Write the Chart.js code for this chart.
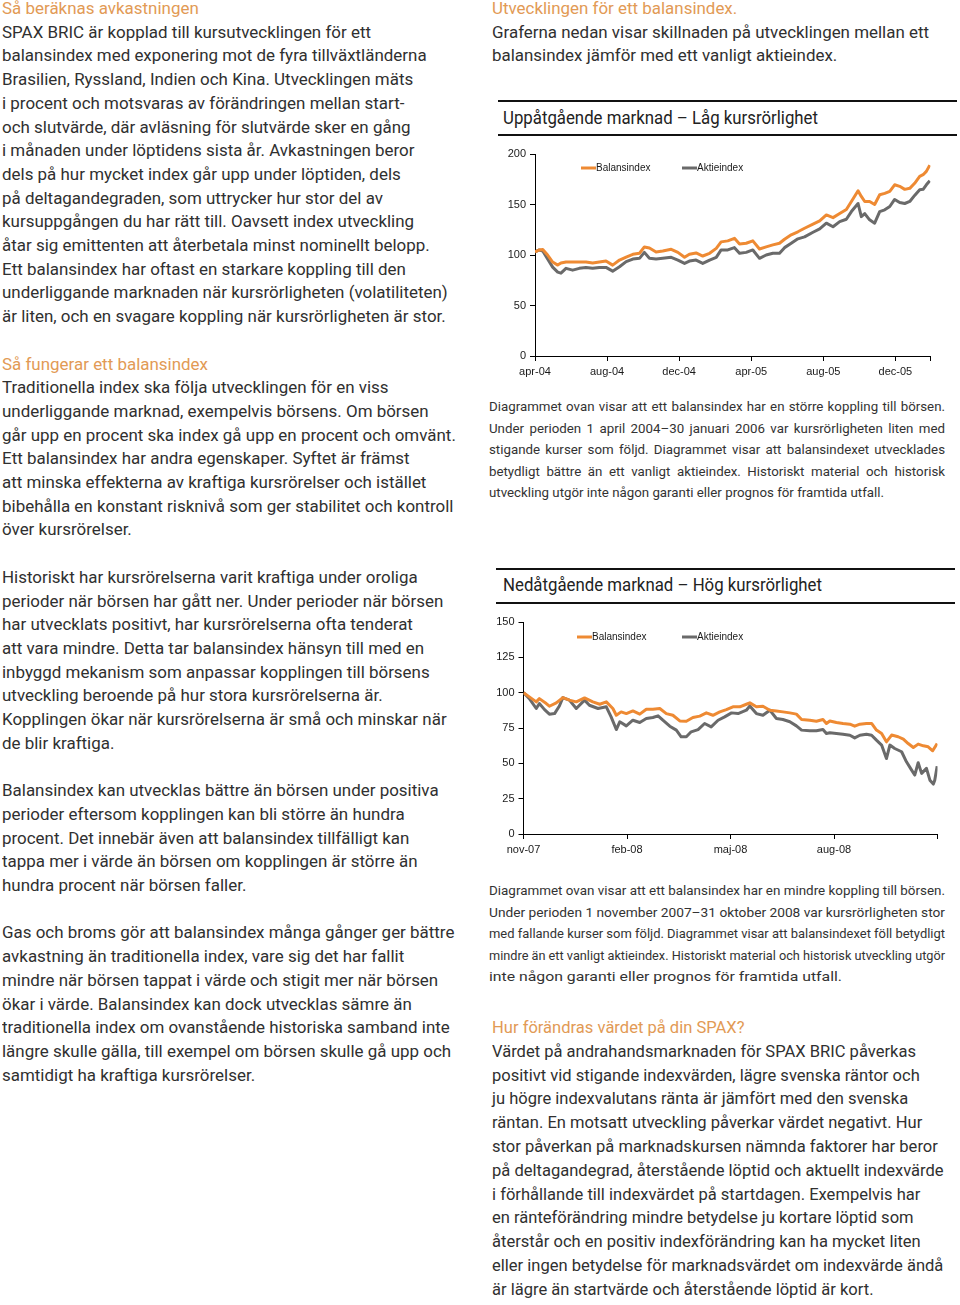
<!DOCTYPE html>
<html lang="sv">
<head>
<meta charset="utf-8">
<script src="https://cdn.jsdelivr.net/npm/chart.js@4/dist/chart.umd.min.js"></script>
<style>
  html,body{margin:0;padding:0;background:#fff;}
  body{width:960px;height:1305px;position:relative;overflow:hidden;font-family:Roboto,"Open Sans",sans-serif;color:#303030;}
  .blk{position:absolute;}
  .ln{white-space:nowrap;}
  .body{font-size:17px;line-height:23.71px;}
  .cap{font-size:13.5px;line-height:21.6px;color:#333;}
  .h{color:#E29A55;}
  .ttl{font-size:18.5px;line-height:24px;color:#222;}
  .rule{position:absolute;height:2px;background:#111;}
  canvas{position:absolute;}
</style>
</head>
<body>
<script>
// ---------- DATA ----------
// Chart 1: Uppåtgående marknad – Låg kursrörlighet (months since 1 apr 2004)
const upMonths = [0,0.24,0.43,0.70,0.98,1.26,1.44,1.72,2.09,2.46,2.83,3.20,3.57,3.94,4.31,4.69,5.06,5.43,5.80,6.07,6.35,6.72,7.09,7.56,7.93,8.30,8.57,8.94,9.31,9.69,10.06,10.33,10.70,11.07,11.35,11.72,12.09,12.46,12.83,13.20,13.57,13.85,14.22,14.59,14.96,15.43,15.80,16.17,16.54,16.91,17.28,17.56,17.93,18.11,18.30,18.57,18.85,19.13,19.41,19.69,19.96,20.24,20.52,20.80,21.07,21.35,21.54,21.72,21.91];
const upBalans = [103,105,105.5,100,93,90,92,93,93,93,93,92,93,94,90,95,98,100.7,101.7,108,107,103,104,105.6,102.6,97.7,100.7,102,99,101.7,106.6,113,114,116.5,111,111.6,114,106,108,110,111.6,115.6,120,123,126.5,130.5,133.8,139.7,137,141,145,153,163.6,158,153,153,150,159.6,161,163,169.5,168,165,166,171,177.8,179.5,182.8,189];
const upAktie = [103,105,104,96,88,83,82,86.8,85,86.8,87.7,86.8,87.7,87.7,84,88.4,93.4,96,96.7,102.6,96.7,96,96.7,97.7,95,91.7,94,95,91.7,95,97.7,105,105,107.3,101.7,102.6,105,96.7,100,101.7,101.7,107.3,111.6,116,118,122.5,125.8,131.5,128,133,135.4,143,151,138,141,134.8,131.5,143,144.7,148,155,152,151,153,159,164.6,165,169.5,173.5];
const upTickMonths = [0,4,8,12,16,20,21.95];
const upTickLabels = ['apr-04','aug-04','dec-04','apr-05','aug-05','dec-05',''];
const upYTicks = [0,50,100,150,200];

// Chart 2: Nedåtgående marknad – Hög kursrörlighet (months since 1 nov 2007)
const downMonthsB = [0,0.17,0.37,0.46,0.66,0.75,0.95,1.14,1.33,1.53,1.77,2.01,2.21,2.40,2.59,2.69,2.83,2.98,3.17,3.37,3.56,3.75,3.95,4.14,4.33,4.53,4.72,4.91,5.11,5.30,5.49,5.69,5.88,6.07,6.27,6.46,6.56,6.75,6.94,7.14,7.33,7.52,7.72,7.91,8.06,8.30,8.49,8.68,8.78,8.88,9.07,9.26,9.46,9.60,9.75,9.94,10.09,10.23,10.38,10.52,10.67,10.86,11.01,11.15,11.30,11.44,11.59,11.73,11.86,11.99];
const downBalans = [100,97,93.5,95.8,92.3,90.4,92.8,96.5,94.7,93.5,96.3,93.5,91.8,93.5,88.8,84,86.4,85.2,87.1,84.8,88.3,88.3,88.8,85.2,84,80,79.8,82.4,83.4,85.7,84,86.4,88,90,90,91.8,92.8,90,90.4,87.6,87.1,86.4,85.7,84.8,81,80.5,79.8,81,78.2,80,78.9,78.2,77.7,76.3,77.7,78.2,78.2,73.5,71.1,65.2,70,68.8,67.1,64,61.2,63.6,62.4,61.7,58.9,64];
const downMonthsA = [0,0.17,0.37,0.46,0.61,0.75,0.90,1.04,1.14,1.33,1.53,1.77,1.91,2.16,2.40,2.54,2.69,2.79,2.98,3.17,3.37,3.56,3.75,3.90,4.04,4.24,4.43,4.57,4.72,4.86,5.06,5.25,5.44,5.64,5.83,6.03,6.22,6.46,6.56,6.75,6.94,7.14,7.33,7.52,7.72,7.91,8.06,8.30,8.49,8.68,8.78,8.88,9.07,9.26,9.46,9.60,9.75,9.94,10.09,10.23,10.38,10.52,10.62,10.76,10.96,11.10,11.25,11.34,11.44,11.54,11.68,11.78,11.88,11.92,11.99];
const downAktie = [100,95.8,88.8,92.3,88,84.8,85.2,90.6,96.5,94.7,88.8,94.7,91.1,88.8,90,82.9,73.9,79.4,76.5,80.5,78.9,81.7,82.4,83.6,80.5,76.3,73.5,68.8,68.8,72.3,73.9,78.2,75.8,80.5,82.9,85.7,85.2,87.6,90.6,85.2,84,87.6,81.7,81,79.4,76.5,73.5,73,73,73.9,71.1,71.6,71.1,70.6,69.9,68,69.9,70.6,69.9,66.4,62.9,53.4,62.9,60.5,58.2,51.1,45.2,41.7,50.4,42.9,46.4,38.1,35.3,38.1,48];
const downTickMonths = [0,3,6,9,12];
const downTickLabels = ['nov-07','feb-08','maj-08','aug-08',''];
const downYTicks = [0,25,50,75,100,125,150];

const seriesNames = ['Balansindex','Aktieindex'];
</script>

<!-- Left column -->
<div class="blk body" id="left" style="left:2px;top:-3px;" data-ref="1" data-w="369">
<div class="ln h">Så beräknas avkastningen</div>
<div class="ln">SPAX BRIC är kopplad till kursutvecklingen för ett</div>
<div class="ln">balansindex med exponering mot de fyra tillväxtländerna</div>
<div class="ln">Brasilien, Ryssland, Indien och Kina. Utvecklingen mäts</div>
<div class="ln">i procent och motsvaras av förändringen mellan start-</div>
<div class="ln">och slutvärde, där avläsning för slutvärde sker en gång</div>
<div class="ln">i månaden under löptidens sista år. Avkastningen beror</div>
<div class="ln">dels på hur mycket index går upp under löptiden, dels</div>
<div class="ln">på deltagandegraden, som uttrycker hur stor del av</div>
<div class="ln">kursuppgången du har rätt till. Oavsett index utveckling</div>
<div class="ln">åtar sig emittenten att återbetala minst nominellt belopp.</div>
<div class="ln">Ett balansindex har oftast en starkare koppling till den</div>
<div class="ln">underliggande marknaden när kursrörligheten (volatiliteten)</div>
<div class="ln">är liten, och en svagare koppling när kursrörligheten är stor.</div>
<div class="ln">&nbsp;</div>
<div class="ln h">Så fungerar ett balansindex</div>
<div class="ln">Traditionella index ska följa utvecklingen för en viss</div>
<div class="ln">underliggande marknad, exempelvis börsens. Om börsen</div>
<div class="ln">går upp en procent ska index gå upp en procent och omvänt.</div>
<div class="ln">Ett balansindex har andra egenskaper. Syftet är främst</div>
<div class="ln">att minska effekterna av kraftiga kursrörelser och istället</div>
<div class="ln">bibehålla en konstant risknivå som ger stabilitet och kontroll</div>
<div class="ln">över kursrörelser.</div>
<div class="ln">&nbsp;</div>
<div class="ln">Historiskt har kursrörelserna varit kraftiga under oroliga</div>
<div class="ln">perioder när börsen har gått ner. Under perioder när börsen</div>
<div class="ln">har utvecklats positivt, har kursrörelserna ofta tenderat</div>
<div class="ln">att vara mindre. Detta tar balansindex hänsyn till med en</div>
<div class="ln">inbyggd mekanism som anpassar kopplingen till börsens</div>
<div class="ln">utveckling beroende på hur stora kursrörelserna är.</div>
<div class="ln">Kopplingen ökar när kursrörelserna är små och minskar när</div>
<div class="ln">de blir kraftiga.</div>
<div class="ln">&nbsp;</div>
<div class="ln">Balansindex kan utvecklas bättre än börsen under positiva</div>
<div class="ln">perioder eftersom kopplingen kan bli större än hundra</div>
<div class="ln">procent. Det innebär även att balansindex tillfälligt kan</div>
<div class="ln">tappa mer i värde än börsen om kopplingen är större än</div>
<div class="ln">hundra procent när börsen faller.</div>
<div class="ln">&nbsp;</div>
<div class="ln">Gas och broms gör att balansindex många gånger ger bättre</div>
<div class="ln">avkastning än traditionella index, vare sig det har fallit</div>
<div class="ln">mindre när börsen tappat i värde och stigit mer när börsen</div>
<div class="ln">ökar i värde. Balansindex kan dock utvecklas sämre än</div>
<div class="ln">traditionella index om ovanstående historiska samband inte</div>
<div class="ln">längre skulle gälla, till exempel om börsen skulle gå upp och</div>
<div class="ln">samtidigt ha kraftiga kursrörelser.</div>
</div>

<!-- Right column intro -->
<div class="blk body" id="rintro" style="left:492px;top:-3px;" data-ref="1" data-w="437">
<div class="ln h">Utvecklingen för ett balansindex.</div>
<div class="ln">Graferna nedan visar skillnaden på utvecklingen mellan ett</div>
<div class="ln">balansindex jämför med ett vanligt aktieindex.</div>
</div>

<!-- Chart 1 title -->
<div class="rule" style="left:498px;top:100px;width:459px;"></div>
<div class="blk ttl" id="t1" style="left:503px;top:106px;" data-ref="0" data-w="315">
<div class="ln">Uppåtgående marknad – Låg kursrörlighet</div>
</div>
<div class="rule" style="left:498px;top:134px;width:459px;"></div>
<canvas id="c1" width="460" height="250" style="left:490px;top:140px;"></canvas>

<!-- Caption 1 -->
<div class="blk cap" id="cap1" style="left:489px;top:396px;" data-ref="4" data-w="395" data-j="456">
<div class="ln j">Diagrammet ovan visar att ett balansindex har en större koppling till börsen.</div>
<div class="ln j">Under perioden 1 april 2004–30 januari 2006 var kursrörligheten liten med</div>
<div class="ln j">stigande kurser som följd. Diagrammet visar att balansindexet utvecklades</div>
<div class="ln j">betydligt bättre än ett vanligt aktieindex. Historiskt material och historisk</div>
<div class="ln">utveckling utgör inte någon garanti eller prognos för framtida utfall.</div>
</div>

<!-- Chart 2 title -->
<div class="rule" style="left:496px;top:568px;width:459px;"></div>
<div class="blk ttl" id="t2" style="left:503px;top:573px;" data-ref="0" data-w="319">
<div class="ln">Nedåtgående marknad – Hög kursrörlighet</div>
</div>
<div class="rule" style="left:496px;top:602px;width:459px;"></div>
<canvas id="c2" width="460" height="260" style="left:490px;top:605px;"></canvas>

<!-- Caption 2 -->
<div class="blk cap" id="cap2" style="left:489px;top:880px;" data-ref="4" data-w="353" data-j="456">
<div class="ln j">Diagrammet ovan visar att ett balansindex har en mindre koppling till börsen.</div>
<div class="ln j">Under perioden 1 november 2007–31 oktober 2008 var kursrörligheten stor</div>
<div class="ln j">med fallande kurser som följd. Diagrammet visar att balansindexet föll betydligt</div>
<div class="ln j">mindre än ett vanligt aktieindex. Historiskt material och historisk utveckling utgör</div>
<div class="ln">inte någon garanti eller prognos för framtida utfall.</div>
</div>

<!-- Bottom right -->
<div class="blk body" id="rbottom" style="left:492px;top:1016px;line-height:23.8px;" data-ref="1" data-w="424">
<div class="ln h">Hur förändras värdet på din SPAX?</div>
<div class="ln">Värdet på andrahandsmarknaden för SPAX BRIC påverkas</div>
<div class="ln">positivt vid stigande indexvärden, lägre svenska räntor och</div>
<div class="ln">ju högre indexvalutans ränta är jämfört med den svenska</div>
<div class="ln">räntan. En motsatt utveckling påverkar värdet negativt. Hur</div>
<div class="ln">stor påverkan på marknadskursen nämnda faktorer har beror</div>
<div class="ln">på deltagandegrad, återstående löptid och aktuellt indexvärde</div>
<div class="ln">i förhållande till indexvärdet på startdagen. Exempelvis har</div>
<div class="ln">en ränteförändring mindre betydelse ju kortare löptid som</div>
<div class="ln">återstår och en positiv indexförändring kan ha mycket liten</div>
<div class="ln">eller ingen betydelse för marknadsvärdet om indexvärde ändå</div>
<div class="ln">är lägre än startvärde och återstående löptid är kort.</div>
</div>

<script>
// ---------- text fitting ----------
function fitBlock(block){
  const lines=[...block.querySelectorAll('.ln')];
  lines.forEach(l=>{
    const sp=document.createElement('span');
    sp.innerHTML=l.innerHTML; l.innerHTML=''; l.appendChild(sp);
    sp.style.display='inline-block'; sp.style.transformOrigin='0 0';
  });
  const refW=lines[+block.dataset.ref].firstChild.getBoundingClientRect().width;
  const s=(+block.dataset.w)/refW;
  const jw=block.dataset.j?+block.dataset.j:0;
  lines.forEach(l=>{
    const sp=l.firstChild; let sc=s;
    if(jw && l.classList.contains('j')){
      const w=sp.getBoundingClientRect().width;
      const n=(sp.textContent.match(/ /g)||[]).length;
      if(w*s<jw && n){ sp.style.wordSpacing=((jw/s-w)/n)+'px'; }
      else sc=jw/w;
    }
    sp.style.transform='scaleX('+sc+')';
  });
}
document.querySelectorAll('.blk').forEach(fitBlock);

// ---------- charts ----------
const ORANGE='#EE8A33', GRAY='#6A6A6A', INK='#1a1a1a';
const tickFont={family:'"Liberation Sans", Arial, sans-serif',size:11};

const legendPlugin={
  id:'inlineLegend',
  afterDatasetsDraw(chart,args,opts){
    const ctx=chart.ctx, a=chart.chartArea;
    ctx.save();
    ctx.font='10px "Liberation Sans", Arial, sans-serif';
    ctx.textBaseline='middle'; ctx.fillStyle=INK;
    chart.data.datasets.forEach((ds,i)=>{
      const x=a.left+opts.offsets[i], y=a.top+opts.dy;
      ctx.strokeStyle=ds.borderColor; ctx.lineWidth=3;
      ctx.beginPath(); ctx.moveTo(x,y); ctx.lineTo(x+15,y); ctx.stroke();
      ctx.fillText(ds.label,x+15,y+0.5);
    });
    ctx.restore();
  }
};

function makeChart(id,cfg){
  return new Chart(document.getElementById(id),{
    type:'line',
    data:{datasets:[
      {label:seriesNames[0],data:cfg.xb.map((x,i)=>({x,y:cfg.b[i]})),borderColor:ORANGE,borderWidth:3,pointRadius:0,tension:0,borderJoinStyle:'round'},
      {label:seriesNames[1],data:cfg.xa.map((x,i)=>({x,y:cfg.a[i]})),borderColor:GRAY,borderWidth:3,pointRadius:0,tension:0,borderJoinStyle:'round'}
    ]},
    options:{
      responsive:false,animation:false,
      layout:{padding:cfg.pad},
      plugins:{legend:{display:false},tooltip:{enabled:false},inlineLegend:cfg.legend},
      scales:{
        x:{type:'linear',min:0,max:cfg.xmax,
          afterBuildTicks:s=>{s.ticks=cfg.xticks.map(v=>({value:v}));},
          afterFit:s=>{s.height=cfg.xh;},
          ticks:{autoSkip:false,maxRotation:0,font:tickFont,color:INK,padding:4,
            callback:(v,i)=>cfg.xlabels[i]},
          grid:{drawOnChartArea:false,tickLength:5,color:'#000',lineWidth:1},
          border:{color:'#000',width:1}
        },
        y:{min:0,max:cfg.ymax,
          afterBuildTicks:s=>{s.ticks=cfg.yticks.map(v=>({value:v}));},
          afterFit:s=>{s.width=cfg.yw;},
          ticks:{font:tickFont,color:INK,padding:4},
          grid:{drawOnChartArea:false,tickLength:5,color:'#000',lineWidth:1},
          border:{color:'#000',width:1}
        }
      }
    },
    plugins:[legendPlugin]
  });
}

makeChart('c1',{xb:upMonths,b:upBalans,xa:upMonths,a:upAktie,xmax:21.95,
  xticks:upTickMonths,xlabels:upTickLabels,yticks:upYTicks,ymax:200,
  pad:{top:14,right:19.5,left:0,bottom:0},xh:34,yw:45,
  legend:{offsets:[46,147],dy:14}});
makeChart('c2',{xb:downMonthsB,b:downBalans,xa:downMonthsA,a:downAktie,xmax:12,
  xticks:downTickMonths,xlabels:downTickLabels,yticks:downYTicks,ymax:150,
  pad:{top:17,right:12.5,left:0,bottom:0},xh:31,yw:33.5,
  legend:{offsets:[53.5,158.5],dy:15}});
</script>
</body>
</html>
